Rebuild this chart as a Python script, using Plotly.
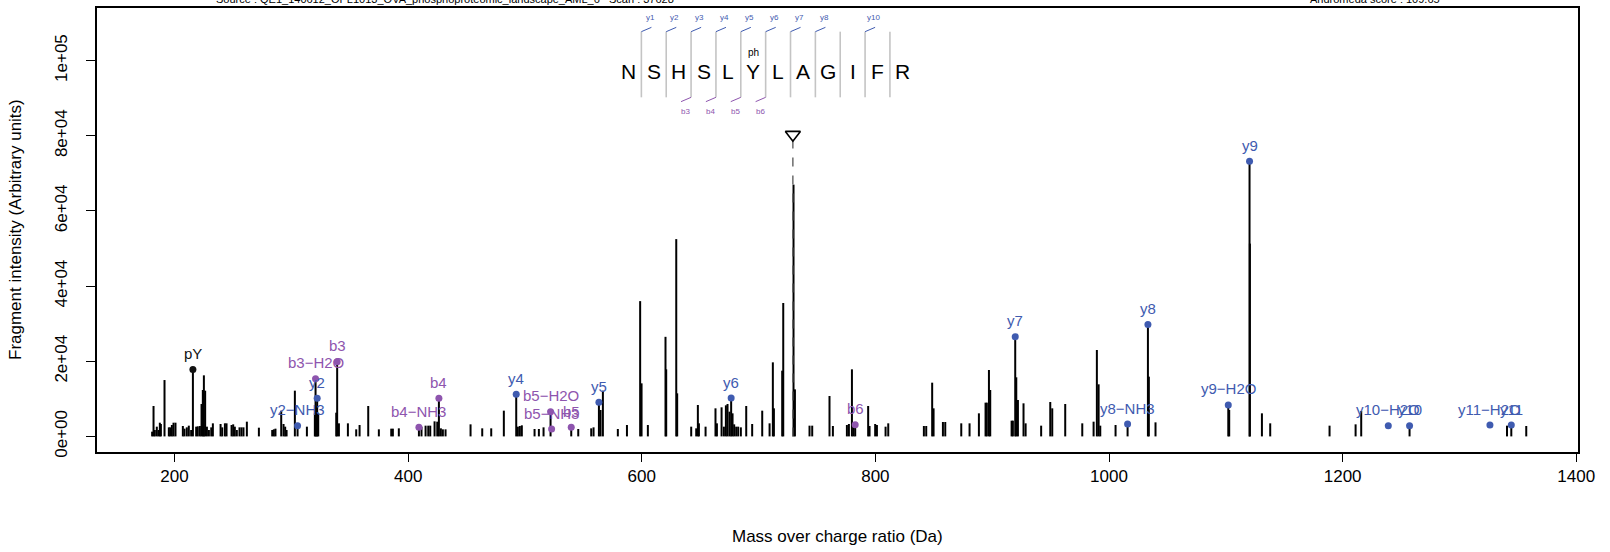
import plotly.graph_objects as go

# ---------------- data ----------------
peak_mz = [
    180.8, 182.0, 183.1, 184.8, 186.3, 187.4, 188.3, 191.4, 195.1, 196.3,
    197.7, 199.1, 200.8, 207.1, 208.5, 210.5, 212.2, 214.2, 215.7, 218.5,
    219.9, 221.7, 223.1, 224.2, 225.1, 226.2, 227.7, 229.4, 231.4, 232.8,
    239.4, 240.8, 243.1, 244.5, 248.8, 250.2, 251.6, 253.3, 255.6, 257.3,
    259.0, 261.9, 272.2, 283.6, 285.0, 286.4, 291.3, 293.3, 294.7, 295.9,
    303.0, 305.3, 313.3, 320.1, 320.7, 321.5, 322.1, 323.0, 338.4, 339.2,
    340.7, 348.4, 355.5, 358.4, 365.8, 374.9, 385.5, 386.9, 392.0, 409.2,
    411.4, 414.9, 417.2, 418.9, 422.6, 424.9, 426.3, 428.0, 429.7, 432.0,
    453.4, 463.4, 471.1, 481.9, 492.5, 493.9, 495.6, 497.3, 508.2, 511.9,
    515.9, 521.9, 539.6, 545.6, 556.7, 558.7, 563.3, 564.7, 566.7, 579.5,
    587.3, 598.6, 599.8, 605.2, 620.3, 620.9, 629.5, 630.3, 642.3, 646.6,
    648.0, 648.9, 654.6, 663.1, 664.3, 668.3, 670.3, 672.0, 673.4, 675.1,
    676.5, 677.7, 679.1, 680.8, 682.5, 684.8, 689.4, 694.5, 703.1, 709.4,
    712.2, 713.1, 720.2, 721.1, 729.9, 731.1, 743.6, 745.9, 760.7, 763.6,
    775.6, 777.3, 779.9, 781.3, 782.7, 793.8, 795.0, 799.8, 801.3, 808.7,
    811.0, 841.5, 843.5, 848.6, 849.8, 857.8, 859.8, 873.5, 880.6, 888.6,
    894.3, 895.4, 897.2, 898.3, 916.6, 917.7, 919.7, 920.6, 922.0, 926.8,
    928.6, 941.9, 949.7, 951.4, 962.5, 977.1, 986.8, 989.6, 991.1, 992.5,
    1005.6, 1015.9, 1033.3, 1034.1, 1039.8, 1102.1, 1102.9, 1120.3, 1120.6, 1130.9,
    1138.0, 1188.8, 1211.1, 1215.9, 1257.3, 1340.7, 1344.4, 1357.2,
]
peak_int = [
    1260, 8090, 1700, 2590, 1700, 3650, 3300, 15000, 2410, 2410,
    3030, 3650, 3650, 2770, 2060, 2410, 2860, 1700, 17800, 2590,
    2680, 2770, 8620, 12350, 16250, 12170, 2590, 1700, 2410, 3480,
    3300, 2410, 3480, 3480, 3030, 3210, 2590, 1700, 2410, 2410,
    2410, 3920, 2320, 1700, 1880, 2060, 6850, 3300, 2590, 1700,
    12170, 2860, 2590, 6140, 15360, 7910, 10130, 6140, 6310, 19890,
    3480, 3480, 1880, 3030, 8090, 1880, 2060, 2060, 2150, 2410,
    2590, 2860, 2860, 2860, 4010, 3920, 10130, 2150, 1880, 1880,
    3210, 2150, 2150, 6850, 11190, 2590, 2770, 2950, 1970, 1970,
    2410, 6580, 2410, 1970, 2150, 2410, 9060, 7020, 12170, 1970,
    3030, 36000, 14120, 3030, 26500, 17850, 52500, 11460, 2590, 2150,
    8360, 3480, 2590, 7470, 3480, 7740, 2590, 8270, 8620, 6580,
    10220, 6140, 3210, 2590, 2590, 2410, 8090, 3300, 6850, 3480,
    19710, 7470, 17490, 35500, 67000, 12520, 2860, 2860, 10750, 2770,
    3030, 3300, 17850, 3030, 3120, 8090, 2770, 3300, 3030, 2590,
    3480, 2770, 2770, 14300, 7470, 3830, 3830, 3480, 3480, 6140,
    8980, 8980, 17670, 12350, 4190, 4190, 26540, 15720, 9690, 8800,
    3480, 2860, 9150, 7470, 8620, 3480, 3920, 22990, 13860, 2860,
    3030, 3300, 29800, 15900, 3740, 8360, 7020, 73200, 51300, 6140,
    3480, 2860, 3210, 6760, 2860, 2860, 3030, 2770,
]

ion_labels = ["pY", "y2−NH3", "b3−H2O", "y2", "b3", "b4−NH3", "b4", "y4",
              "b5−H2O", "b5−NH3", "b5", "y5", "y6", "b6", "y7", "y8−NH3",
              "y8", "y9−H2O", "y9", "y10−H2O", "y10", "y11−H2O", "y11"]
ion_mz = [215.7, 305.3, 320.7, 322.1, 339.2, 409.2, 426.3, 492.5,
          521.9, 522.8, 539.6, 563.3, 676.5, 782.7, 919.7, 1015.9,
          1033.3, 1102.1, 1120.3, 1239.1, 1257.3, 1326.1, 1344.4]
ion_int = [17800, 2860, 15360, 10130, 19890, 2410, 10130, 11190,
           6580, 1970, 2410, 9060, 10220, 3120, 26540, 3300,
           29800, 8360, 73200, 2860, 2860, 3030, 3030]
ion_type = ["imm", "y", "b", "y", "b", "b", "b", "y",
            "b", "b", "b", "y", "y", "b", "y", "y",
            "y", "y", "y", "y", "y", "y", "y"]

precursor_mz = 729.35
precursor_marker = 80300

sequence = ["N", "S", "H", "S", "L", "Y", "L", "A", "G", "I", "F", "R"]
phospho_pos = 5            # index of the phosphorylated residue (Y)
y_gap_labels = ["y1", "y2", "y3", "y4", "y5", "y6", "y7", "y8", "y10"]
y_gap_index = [1, 2, 3, 4, 5, 6, 7, 8, 10]
b_gap_labels = ["b3", "b4", "b5", "b6"]
b_gap_index = [3, 4, 5, 6]

title_left = "Source : QE1_140612_OPL1013_OVA_phosphoproteomic_landscape_AML_6   Scan : 37628"
title_right = "Andromeda score : 109.65"

x_ticks = [200, 400, 600, 800, 1000, 1200, 1400]
y_ticks = [0, 20000, 40000, 60000, 80000, 100000]
y_ticktext = ["0e+00", "2e+04", "4e+04", "6e+04", "8e+04", "1e+05"]

# ---------------- styling ----------------
BLUE = "#3F5BB0"
PURPLE = "#8E55AE"
BLACK = "#111111"
GREY = "#C4C4C4"
FONT = "Liberation Sans, Arial, Helvetica, sans-serif"
color_of = {"y": BLUE, "b": PURPLE, "imm": BLACK}

fig = go.Figure()

# peaks as sticks
xs, ys = [], []
for m, v in zip(peak_mz, peak_int):
    xs += [m, m, None]
    ys += [0, v, None]
fig.add_trace(go.Scatter(x=xs, y=ys, mode="lines",
                         line=dict(color="black", width=2),
                         hoverinfo="skip", showlegend=False))

# precursor dashed line + triangle
fig.add_trace(go.Scatter(x=[precursor_mz, precursor_mz], y=[0, precursor_marker],
                         mode="lines", line=dict(color="#555555", width=1.3, dash="dash"),
                         showlegend=False, hoverinfo="skip"))
fig.add_trace(go.Scatter(x=[precursor_mz], y=[precursor_marker], mode="markers",
                         marker=dict(symbol="triangle-down-open", size=13,
                                     color="black", line=dict(width=1.6, color="black")),
                         showlegend=False, hoverinfo="skip"))

# annotated ion dots
fig.add_trace(go.Scatter(x=ion_mz, y=ion_int, mode="markers",
                         marker=dict(size=7, color=[color_of[t] for t in ion_type]),
                         showlegend=False, hoverinfo="skip"))
for lab, m, v, t in zip(ion_labels, ion_mz, ion_int, ion_type):
    fig.add_annotation(x=m, y=v, text=lab, showarrow=False, yshift=16,
                       font=dict(family=FONT, size=15, color=color_of[t]),
                       xanchor="center", yanchor="middle")

# ---------------- peptide sequence graphic ----------------
seq_x0 = 589.0      # m/z position of first residue
seq_dx = 21.28      # m/z spacing between residues
seq_y = 97050       # letter height position
line_top, line_bot = 107700, 90230
tick_dx, tick_dy = 8.6, 1150

shapes = []
for i, aa in enumerate(sequence):
    xc = seq_x0 + i * seq_dx
    fig.add_annotation(x=xc, y=seq_y, text=aa, showarrow=False,
                       font=dict(family=FONT, size=21, color="black"),
                       xanchor="center", yanchor="middle")
    if i == phospho_pos:
        fig.add_annotation(x=xc, y=seq_y, text="ph", showarrow=False, yshift=19,
                           font=dict(family=FONT, size=10, color="black"),
                           xanchor="center", yanchor="middle")
for g in range(1, len(sequence)):
    xg = seq_x0 + (g - 0.5) * seq_dx
    shapes.append(dict(type="line", xref="x", yref="y", x0=xg, x1=xg,
                       y0=line_bot, y1=line_top, line=dict(color=GREY, width=1.6)))
for lab, gap in zip(y_gap_labels, y_gap_index):
    xg = seq_x0 + (gap - 0.5) * seq_dx
    shapes.append(dict(type="line", xref="x", yref="y", x0=xg, x1=xg + tick_dx,
                       y0=line_top, y1=line_top + tick_dy, line=dict(color=BLUE, width=1)))
    fig.add_annotation(x=xg + 7.5, y=line_top + tick_dy, text=lab, showarrow=False,
                       yshift=10, font=dict(family=FONT, size=8, color=BLUE),
                       xanchor="center", yanchor="middle")
for lab, gap in zip(b_gap_labels, b_gap_index):
    xg = seq_x0 + (gap - 0.5) * seq_dx
    shapes.append(dict(type="line", xref="x", yref="y", x0=xg, x1=xg - tick_dx,
                       y0=line_bot, y1=line_bot - tick_dy, line=dict(color=PURPLE, width=1)))
    fig.add_annotation(x=xg - 4.5, y=line_bot - tick_dy, text=lab, showarrow=False,
                       yshift=-10, font=dict(family=FONT, size=8, color=PURPLE),
                       xanchor="center", yanchor="middle")

# titles (cut by the top of the page, as in the original)
fig.add_annotation(xref="paper", yref="paper", x=0.235, y=1.0, yshift=9,
                   text=title_left, showarrow=False, xanchor="center", yanchor="middle",
                   font=dict(family=FONT, size=11, color="black"))
fig.add_annotation(xref="paper", yref="paper", x=0.863, y=1.0, yshift=9,
                   text=title_right, showarrow=False, xanchor="center", yanchor="middle",
                   font=dict(family=FONT, size=11, color="black"))
# axis titles
fig.add_annotation(xref="paper", yref="paper", x=0.5, y=0, yshift=-84,
                   text="Mass over charge ratio (Da)", showarrow=False,
                   xanchor="center", yanchor="middle",
                   font=dict(family=FONT, size=17, color="black"))
fig.add_annotation(xref="paper", yref="paper", x=0, y=0.5, xshift=-82,
                   text="Fragment intensity (Arbitrary units)", showarrow=False,
                   textangle=-90, xanchor="center", yanchor="middle",
                   font=dict(family=FONT, size=17, color="black"))

fig.update_layout(
    width=1610, height=552,
    margin=dict(l=97, r=32, t=8, b=100, autoexpand=False),
    paper_bgcolor="white", plot_bgcolor="white",
    shapes=shapes, showlegend=False,
    font=dict(family=FONT, size=17, color="black"),
    xaxis=dict(range=[133.6, 1401.5], tickvals=x_ticks, ticks="outside", ticklen=8,
               tickwidth=1, tickcolor="black", showline=True, linecolor="black",
               linewidth=1.5, mirror=True, showgrid=False, zeroline=False,
               automargin=False, tickfont=dict(family=FONT, size=17)),
    yaxis=dict(range=[-4150, 114000], tickvals=y_ticks, ticktext=y_ticktext,
               tickangle=-90, ticks="outside", ticklen=9, tickwidth=1,
               tickcolor="black", showline=True, linecolor="black", linewidth=1.5,
               mirror=True, showgrid=False, zeroline=False, ticklabelstandoff=12,
               automargin=False, tickfont=dict(family=FONT, size=17)),
)

fig.write_html("out.html", config={"displayModeBar": False},
               post_script="document.body.style.margin='0px';document.body.style.overflow='hidden';")
